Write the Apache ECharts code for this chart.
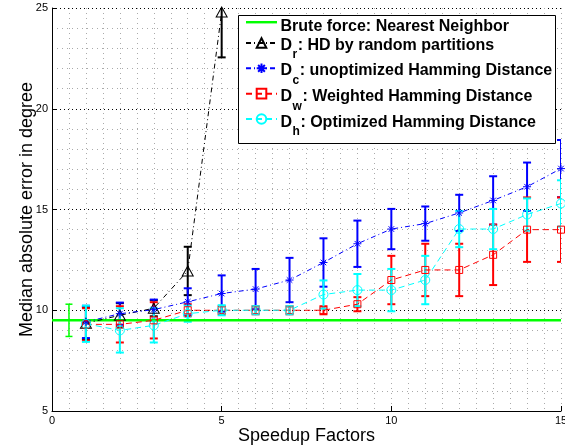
<!DOCTYPE html>
<html><head><meta charset="utf-8">
<script src="https://cdn.jsdelivr.net/npm/echarts@6/dist/echarts.min.js"></script>
<style>html,body{margin:0;padding:0;background:#fff}#c{width:565px;height:447px}</style>
</head><body><div id="c"></div>
<script>
// ---- data ----
const speedup  = [1,2,3,4,5,6,7,8,9,10,11,12,13,14,15];
const speedupR = [1,2,3,4,5];
const bruteLineX = [0, 15];
const bruteValue = 9.5;
const bruteErrX = 0.5;
const bruteErr = 0.8;
const drValues = [9.35, 9.75, 10.1, 11.95, 24.8];
const drErrors = [0.8, 0.6, 0.4, 1.2, 2.25];
const dcValues = [9.42, 9.83, 10.03, 10.42, 10.83, 11.05, 11.5, 12.37, 13.3, 14.03, 14.3, 14.83, 15.45, 16.13, 17.03];
const dcErrors = [0.8, 0.55, 0.5, 0.67, 0.9, 1.0, 1.1, 1.2, 1.15, 1.0, 0.85, 0.9, 1.2, 1.2, 1.42];
const dwValues = [9.3, 9.3, 9.5, 10.0, 10.0, 10.0, 10.0, 10.0, 10.3, 11.5, 12.0, 12.0, 12.75, 14.0, 14.0];
const dwErrors = [0.8, 0.9, 0.9, 0.3, 0.2, 0.2, 0.2, 0.2, 0.35, 1.2, 1.3, 1.3, 1.5, 1.6, 1.6];
const dhValues = [9.33, 9.0, 9.25, 9.83, 10.0, 10.0, 10.0, 10.78, 11.0, 11.0, 11.5, 14.03, 14.03, 14.75, 15.3];
const dhErrors = [0.9, 1.1, 0.85, 0.4, 0.25, 0.2, 0.2, 0.7, 0.8, 1.05, 1.2, 0.9, 1.0, 0.8, 1.15];
const xTicks = [0, 5, 10, 15];
const yTicks = [5, 10, 15, 20, 25];
const seriesNames = ['Brute force: Nearest Neighbor', 'Dr: HD by random partitions',
  'Dc: unoptimized Hamming Distance', 'Dw: Weighted Hamming Distance', 'Dh: Optimized Hamming Distance'];
// legend label pieces: [main, subscript, rest]
const legendLabels = [
  ['Brute force: Nearest Neighbor', '', ''],
  ['D', 'r', ': HD by random partitions'],
  ['D', 'c', ': unoptimized Hamming Distance'],
  ['D', 'w', ': Weighted Hamming Distance'],
  ['D', 'h', ': Optimized Hamming Distance']
];

const FONT = '"Liberation Sans", Arial, Helvetica, sans-serif';
const LEG_FONT = 'bold 16px ' + FONT;
const SUB_FONT = 'bold 12px ' + FONT;

const mctx = document.createElement('canvas').getContext('2d');
function tw(t, f) { mctx.font = f; return mctx.measureText(t).width; }

function pts(xs, vs) { return xs.map((x, i) => [x, vs[i]]); }
function errs(xs, vs, es) { return xs.map((x, i) => [x, vs[i] - es[i], vs[i] + es[i]]); }

function errSeries(data, color, lw, capHalf) {
  return {
    type: 'custom', data: data, clip: true, silent: true,
    encode: { x: 0, y: [1, 2] },
    renderItem: function (params, api) {
      const x = api.value(0), lo = api.value(1), hi = api.value(2);
      const a = api.coord([x, hi]), b = api.coord([x, lo]);
      const st = { stroke: color, lineWidth: lw, fill: null };
      return { type: 'group', children: [
        { type: 'line', shape: { x1: a[0], y1: a[1], x2: b[0], y2: b[1] }, style: st },
        { type: 'line', shape: { x1: a[0] - capHalf, y1: a[1], x2: a[0] + capHalf, y2: a[1] }, style: st },
        { type: 'line', shape: { x1: b[0] - capHalf, y1: b[1], x2: b[0] + capHalf, y2: b[1] }, style: st }
      ]};
    }
  };
}

function lineSeries(name, data, color, dash, symbol, size) {
  return {
    type: 'line', name: name, data: data, symbol: symbol, symbolSize: size,
    showSymbol: true, silent: true,
    lineStyle: { color: color, width: 1, type: dash },
    itemStyle: { color: 'rgba(0,0,0,0)', borderColor: color, borderWidth: 1 },
    emphasis: { disabled: true }
  };
}

const STAR = 'path://M5,0L5,10M0,5L10,5M1.5,1.5L8.5,8.5M8.5,1.5L1.5,8.5';

// legend geometry
const LEG_TEXT_X = 280.5, LEG_Y0 = 27, LEG_STEP = 25.75;
const legendGraphics = [{
  type: 'rect', z: 90, silent: true,
  shape: { x: 238.5, y: 15.5, width: 317, height: 128 },
  style: { fill: '#fff', stroke: '#000', lineWidth: 1 }
}];
legendLabels.forEach(function (lab, i) {
  const cy = LEG_Y0 + i * LEG_STEP;
  if (!lab[1]) {
    legendGraphics.push({ type: 'text', z: 101, silent: true, x: LEG_TEXT_X, y: cy,
      style: { text: lab[0], font: LEG_FONT, fill: '#000', align: 'left', verticalAlign: 'middle' } });
  } else {
    const w0 = tw(lab[0], LEG_FONT), w1 = tw(lab[1], SUB_FONT);
    legendGraphics.push({ type: 'text', z: 101, silent: true, x: LEG_TEXT_X, y: cy - 7.5,
      style: { text: lab[0], font: LEG_FONT, fill: '#000', align: 'left', verticalAlign: 'middle' } });
    legendGraphics.push({ type: 'text', z: 101, silent: true, x: LEG_TEXT_X + w0 + 0.5, y: cy + 2,
      style: { text: lab[1], font: SUB_FONT, fill: '#000', align: 'left', verticalAlign: 'middle' } });
    legendGraphics.push({ type: 'text', z: 101, silent: true, x: LEG_TEXT_X + w0 + w1 + 1, y: cy - 7.5,
      style: { text: lab[2], font: LEG_FONT, fill: '#000', align: 'left', verticalAlign: 'middle' } });
  }
});

const chart = echarts.init(document.getElementById('c'), null, { renderer: 'canvas' });
chart.setOption({
  animation: false,
  backgroundColor: '#fff',
  textStyle: { fontFamily: FONT },
  grid: { left: 52, right: 4, top: 8, bottom: 36, containLabel: false, outerBoundsMode: 'none' },
  xAxis: {
    type: 'value', min: xTicks[0], max: xTicks[xTicks.length - 1], interval: 5,
    name: 'Speedup Factors', nameLocation: 'middle', nameGap: 16, nameMoveOverlap: false,
    nameTextStyle: { fontSize: 18, color: '#000', fontFamily: FONT },
    axisLine: { show: true, lineStyle: { color: '#000', width: 1 } },
    axisTick: { show: true, inside: true, length: 5, lineStyle: { color: '#000' } },
    axisLabel: { fontSize: 11, color: '#000', margin: 4, fontFamily: FONT },
    splitLine: { show: true, lineStyle: { color: '#aaa', width: 1, type: [1, 4] } },
    minorTick: { show: false, splitNumber: 10 },
    minorSplitLine: { show: true, lineStyle: { color: '#aaa', width: 1, type: [1, 4] } }
  },
  yAxis: {
    type: 'value', min: yTicks[0], max: yTicks[yTicks.length - 1], interval: 5,
    name: 'Median absolute error in degree', nameLocation: 'middle', nameGap: 16, nameRotate: 90,
    nameMoveOverlap: false,
    nameTextStyle: { fontSize: 18, color: '#000', fontFamily: FONT },
    axisLine: { show: true, lineStyle: { color: '#000', width: 1 } },
    axisTick: { show: true, inside: true, length: 5, lineStyle: { color: '#000' } },
    axisLabel: { fontSize: 11, color: '#000', margin: 4, fontFamily: FONT },
    splitLine: { show: true, lineStyle: { color: '#000', width: 1, type: [1, 3] } },
    minorTick: { show: false, splitNumber: 5 },
    minorSplitLine: { show: true, lineStyle: { color: '#aaa', width: 1, type: [1, 4] } }
  },
  graphic: legendGraphics,
  legend: {
    z: 100, orient: 'vertical', left: 245, top: LEG_Y0 - 6, padding: 0,
    itemWidth: 31, itemHeight: 12, itemGap: LEG_STEP - 12, selectedMode: false,
    data: [
      { name: seriesNames[0], icon: 'path://M0,0L32,0L32,2.5L0,2.5Z' },
      seriesNames[1], seriesNames[2], seriesNames[3], seriesNames[4]
    ],
    formatter: function () { return ''; },
    textStyle: { fontSize: 6, lineHeight: 6, color: '#000' }
  },
  series: [
    {
      type: 'line', name: seriesNames[0], data: pts(bruteLineX, bruteLineX.map(() => bruteValue)),
      symbol: 'none', silent: true,
      lineStyle: { color: '#00ff00', width: 2.5 }, itemStyle: { color: '#00ff00' },
      emphasis: { disabled: true }
    },
    errSeries(errs([bruteErrX], [bruteValue], [bruteErr]), '#00ff00', 1.5, 3.5),
    errSeries(errs(speedupR, drValues, drErrors), '#000', 2, 4),
    lineSeries(seriesNames[1], pts(speedupR, drValues), '#000', [5, 3, 1, 3], 'triangle', [11, 10]),
    errSeries(errs(speedup, dcValues, dcErrors), '#0000ff', 2, 4),
    lineSeries(seriesNames[2], pts(speedup, dcValues), '#0000ff', [5, 3, 1, 3], STAR, 8),
    errSeries(errs(speedup, dwValues, dwErrors), '#ff0000', 2, 4),
    lineSeries(seriesNames[3], pts(speedup, dwValues), '#ff0000', [6, 4], 'rect', 7),
    errSeries(errs(speedup, dhValues, dhErrors), '#00ffff', 2, 4),
    lineSeries(seriesNames[4], pts(speedup, dhValues), '#00ffff', [6, 4], 'circle', 9)
  ]
});
</script>
</body></html>
